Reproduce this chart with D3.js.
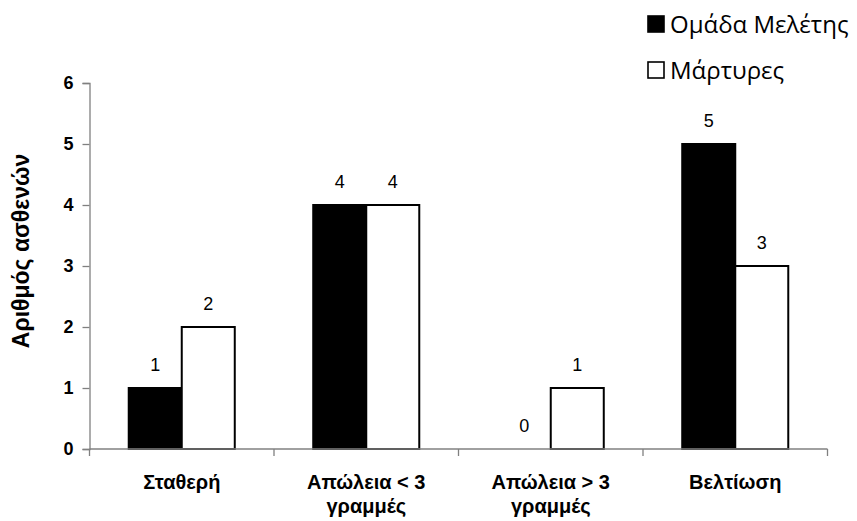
<!DOCTYPE html>
<html>
<head>
<meta charset="utf-8">
<script src="https://cdn.jsdelivr.net/npm/d3@7"></script>
<style>
  body { margin: 0; background: #fff; }
  svg { display: block; }
</style>
</head>
<body>
<svg id="chart" width="857" height="521"></svg>
<script>
// Patient outcome counts per group
const categories = [["Σταθερή"], ["Απώλεια < 3", "γραμμές"], ["Απώλεια > 3", "γραμμές"], ["Βελτίωση"]];
const seriesNames = ["Ομάδα Μελέτης", "Μάρτυρες"];
const studyGroup = [1, 4, 0, 5];
const controlGroup = [2, 4, 1, 3];
const yTicks = [0, 1, 2, 3, 4, 5, 6];
const yTitle = "Αριθμός ασθενών";

const fills = ["#000000", "#ffffff"];
const svg = d3.select("#chart");

const plotLeft = 89.5, plotRight = 827.5, plotTop = 83, plotBottom = 449;
const sansBold = "Liberation Sans, Arial, sans-serif";

const x0 = d3.scaleBand().domain(d3.range(categories.length)).range([plotLeft, plotRight]).paddingInner(0).paddingOuter(0);
const x1 = d3.scaleBand().domain([0, 1]).range([0, x0.bandwidth()]).paddingOuter(0.74).paddingInner(0);
const y = d3.scaleLinear().domain([0, 6]).range([plotBottom, plotTop]);

const rows = categories.map((c, i) => ({ i, values: [studyGroup[i], controlGroup[i]] }));

// Bars
const groups = svg.append("g").selectAll("g").data(rows).join("g")
  .attr("transform", d => `translate(${x0(d.i)},0)`);

groups.selectAll("rect").data(d => d.values.map((v, s) => ({ v, s }))).join("rect")
  .attr("x", d => x1(d.s))
  .attr("width", x1.bandwidth())
  .attr("y", d => y(d.v))
  .attr("height", d => y(0) - y(d.v))
  .attr("fill", d => fills[d.s])
  .attr("stroke", "#000")
  .attr("stroke-width", d => d.v === 0 ? 0 : 2);

// Value labels
groups.selectAll("text").data(d => d.values.map((v, s) => ({ v, s }))).join("text")
  .attr("x", d => x1(d.s) + x1.bandwidth() / 2)
  .attr("y", d => y(d.v) - 17)
  .attr("text-anchor", "middle")
  .attr("font-family", sansBold)
  .attr("font-size", 18)
  .attr("fill", "#000")
  .text(d => d.v);

// Y axis
const yAxis = svg.append("g")
  .attr("transform", `translate(${plotLeft},0)`)
  .call(d3.axisLeft(y).tickValues(yTicks).tickSize(7).tickPadding(9).tickFormat(d3.format("d")));
yAxis.select(".domain").attr("stroke", "#808080").attr("stroke-width", 1.3);
yAxis.selectAll(".tick line").attr("stroke", "#808080").attr("stroke-width", 1.3);
yAxis.selectAll(".tick text")
  .attr("font-family", sansBold)
  .attr("font-weight", "bold")
  .attr("font-size", 18)
  .attr("fill", "#000");

// X axis with boundary ticks between categories
const xAxisG = svg.append("g");
xAxisG.append("line")
  .attr("x1", plotLeft).attr("x2", plotRight)
  .attr("y1", y(0)).attr("y2", y(0))
  .attr("stroke", "#808080").attr("stroke-width", 1.3);
const boundaries = d3.range(categories.length + 1).map(i => i < categories.length ? x0(i) : x0(i - 1) + x0.bandwidth());
xAxisG.selectAll("line.b").data(boundaries).join("line")
  .attr("class", "b")
  .attr("x1", d => d).attr("x2", d => d)
  .attr("y1", y(0)).attr("y2", y(0) + 7)
  .attr("stroke", "#808080").attr("stroke-width", 1.3);

const catLabels = xAxisG.selectAll("text").data(rows).join("text")
  .attr("x", d => x0(d.i) + x0.bandwidth() / 2)
  .attr("y", 489)
  .attr("text-anchor", "middle")
  .attr("font-family", sansBold)
  .attr("font-weight", "bold")
  .attr("font-size", 20);
catLabels.selectAll("tspan").data(d => categories[d.i]).join("tspan")
  .attr("x", function () { return d3.select(this.parentNode).attr("x"); })
  .attr("dy", (d, k) => k === 0 ? 0 : 24)
  .text(d => d);

// Y axis title
svg.append("text")
  .attr("transform", `translate(29,251) rotate(-90)`)
  .attr("text-anchor", "middle")
  .attr("font-family", sansBold)
  .attr("font-weight", "bold")
  .attr("font-size", 23)
  .text(yTitle);

// Legend
const legend = svg.append("g").selectAll("g").data(seriesNames).join("g")
  .attr("transform", (d, i) => `translate(647,${24 + i * 46})`);
legend.append("rect")
  .attr("x", 1).attr("y", -8).attr("width", 16).attr("height", 16)
  .attr("fill", (d, i) => fills[i])
  .attr("stroke", "#000").attr("stroke-width", 1.6);
legend.append("text")
  .attr("x", 23).attr("y", 9)
  .attr("font-family", "Open Sans, Noto Sans, sans-serif")
  .attr("font-size", 24)
  .attr("fill", "#000")
  .text(d => d);
</script>
</body>
</html>
